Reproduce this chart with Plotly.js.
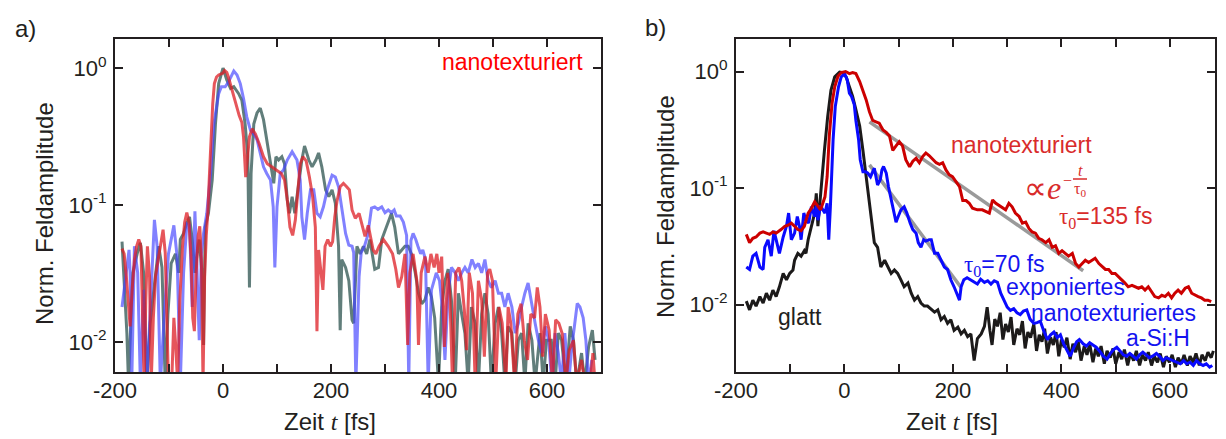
<!DOCTYPE html>
<html>
<head>
<meta charset="utf-8">
<script src="https://cdn.plot.ly/plotly-3.0.1.min.js"></script>
<style>html,body{margin:0;padding:0;background:#fff}#chart{width:1226px;height:439px}</style>
</head>
<body>
<div id="chart"></div>
<script>
// ---------- data: [time fs, normalised field amplitude] ----------
// panel a) three nanotextured samples (clipped values below axis go off-plot)
const aGrey = [[-187,.054],[-178,.0116],[-175,.005],[-167,.032],[-159,.044],[-153,.053],[-147,.032],[-141,.005],[-135,.0137],[-125,.032],[-119,.05],[-113,.035],[-107,.005],[-102,.016],[-96,.0375],[-88,.044],[-82,.032],[-79,.056],[-73,.062],[-67,.074],[-62,.082],[-57,.056],[-52,.032],[-48,.044],[-44,.056],[-39,.032],[-36,.0095],[-33,.069],[-27,.087],[-20,.152],[-14,.39],[-8,.77],[0,1.0],[7,.82],[14,.71],[20,.73],[24,.69],[29,.65],[35,.58],[41,.39],[46,.225],[49,.025],[52,.17],[57,.39],[63,.47],[69,.51],[75,.42],[81,.3],[88,.19],[94,.144],[98,.225],[103,.213],[109,.225],[114,.2],[119,.109],[123,.087],[128,.115],[133,.087],[137,.115],[141,.152],[146,.213],[151,.27],[159,.213],[165,.19],[172,.213],[177,.24],[183,.19],[190,.129],[196,.115],[202,.129],[208,.103],[214,.05],[217,.0122],[220,.04],[227,.035],[233,.028],[239,.0145],[242,.0137],[248,.05],[254,.044],[260,.05],[266,.044],[272,.056],[281,.034],[288,.035],[294,.056],[303,.069],[312,.087],[318,.069],[325,.044],[331,.047],[337,.05],[343,.05],[349,.044],[356,.032],[362,.0227],[368,.019],[374,.0203],[380,.025],[386,.0214],[392,.015],[399,.005],[405,.018],[411,.028],[417,.034],[423,.0203],[430,.005],[436,.0227],[442,.016],[448,.0116],[454,.005],[460,.018],[467,.0137],[473,.005],[479,.016],[485,.0227],[491,.016],[497,.005],[504,.0137],[510,.018],[516,.0116],[522,.005],[528,.013],[535,.0116],[541,.005],[547,.0103],[553,.0116],[559,.005],[565,.0137],[572,.0103],[578,.005],[587,.0116],[593,.005],[599,.0103],[608,.0103],[615,.005],[621,.0116],[627,.0103],[635,.005],[643,.013],[649,.0103],[655,.005],[664,.0083],[670,.005],[677,.0092],[684,.0122],[689,.0074]];
const aBlue = [[-187,.018],[-181,.028],[-174,.047],[-172,.032],[-169,.005],[-164,.05],[-158,.032],[-153,.005],[-147,.024],[-141,.005],[-131,.042],[-127,.078],[-122,.05],[-116,.005],[-107,.0203],[-101,.044],[-91,.071],[-85,.042],[-79,.005],[-73,.032],[-67,.073],[-62,.071],[-57,.018],[-52,.09],[-48,.032],[-44,.0103],[-40,.044],[-36,.062],[-30,.087],[-23,.17],[-17,.39],[-11,.55],[-8,.65],[-3,.73],[4,.73],[10,.79],[17,.91],[20,.95],[26,.89],[32,.77],[38,.6],[44,.44],[51,.35],[57,.33],[63,.3],[69,.24],[75,.19],[81,.17],[88,.152],[93,.097],[96,.035],[100,.097],[106,.17],[112,.18],[119,.213],[128,.245],[137,.213],[143,.152],[146,.082],[151,.056],[156,.087],[162,.129],[168,.129],[174,.087],[180,.082],[186,.097],[193,.129],[202,.165],[208,.16],[214,.136],[220,.097],[227,.062],[233,.051],[239,.05],[242,.045],[246,.005],[252,.03],[256,.045],[262,.05],[268,.06],[275,.095],[281,.097],[287,.093],[294,.097],[300,.088],[306,.092],[312,.088],[317,.092],[321,.083],[328,.083],[334,.075],[340,.06],[344,.005],[348,.055],[352,.062],[357,.056],[361,.05],[366,.044],[370,.047],[375,.04],[380,.005],[386,.024],[395,.032],[401,.028],[406,.018],[411,.0074],[417,.0227],[423,.035],[430,.032],[436,.028],[442,.032],[448,.035],[454,.032],[461,.04],[467,.035],[473,.0375],[479,.032],[485,.04],[491,.028],[497,.025],[504,.028],[510,.0227],[516,.0227],[522,.018],[528,.0227],[535,.018],[541,.0116],[547,.0137],[553,.018],[559,.0227],[565,.027],[572,.018],[578,.0137],[584,.0103],[591,.0083],[597,.013],[603,.0103],[609,.005],[615,.0116],[621,.0083],[627,.005],[633,.0116],[640,.005],[646,.0092],[652,.0145],[656,.0191],[661,.018],[667,.015],[672,.0103],[677,.005],[683,.0074]];
const aRed = [[-187,.048],[-183,.044],[-179,.03],[-176,.02],[-172,.013],[-168,.025],[-164,.04],[-160,.05],[-156,.056],[-152,.05],[-149,.02],[-146,.005],[-143,.02],[-140,.05],[-136,.03],[-133,.005],[-129,.015],[-125,.03],[-120,.04],[-115,.055],[-111,.066],[-107,.045],[-104,.015],[-101,.005],[-95,.005],[-91,.015],[-88,.01],[-84,.005],[-80,.02],[-75,.05],[-71,.075],[-67,.088],[-63,.075],[-59,.04],[-56,.015],[-53,.012],[-50,.03],[-46,.06],[-43,.07],[-40,.04],[-37,.005],[-34,.03],[-31,.06],[-28,.09],[-25,.17],[-22,.33],[-19,.55],[-16,.77],[-12,.86],[-8,.89],[-4,.9],[0,.92],[3,.96],[7,.93],[10,.86],[15,.73],[20,.6],[25,.51],[30,.45],[35,.4],[38,.315],[42,.16],[45,.21],[49,.315],[54,.36],[60,.33],[67,.28],[75,.225],[82,.2],[90,.19],[100,.18],[108,.17],[114,.152],[119,.109],[124,.069],[129,.06],[134,.078],[139,.144],[143,.2],[148,.225],[154,.21],[160,.16],[166,.115],[171,.069],[174,.012],[177,.047],[181,.032],[185,.024],[189,.05],[194,.056],[199,.05],[203,.054],[207,.082],[211,.106],[217,.136],[223,.144],[229,.136],[234,.129],[239,.092],[245,.08],[252,.087],[258,.069],[263,.059],[269,.071],[274,.056],[278,.047],[283,.044],[289,.05],[297,.056],[306,.05],[314,.044],[320,.034],[325,.025],[331,.03],[337,.044],[342,.0095],[346,.032],[352,.044],[359,.028],[362,.0095],[367,.032],[374,.042],[380,.032],[385,.044],[391,.035],[396,.044],[400,.032],[405,.042],[410,.0092],[416,.032],[420,.0227],[425,.005],[431,.032],[437,.035],[442,.028],[447,.017],[451,.0087],[456,.032],[462,.0227],[467,.005],[473,.028],[479,.0203],[484,.0078],[490,.032],[494,.034],[499,.028],[505,.005],[511,.018],[517,.0137],[524,.005],[528,.018],[533,.0137],[540,.005],[546,.016],[552,.019],[558,.0103],[564,.0074],[570,.016],[577,.015],[582,.025],[587,.018],[592,.0078],[597,.016],[604,.0122],[610,.005],[616,.0145],[622,.0137],[628,.0116],[635,.005],[641,.0087],[649,.0103],[655,.005],[664,.0074],[670,.005],[680,.005],[685,.0083],[689,.005]];

// panel b) smooth (glatt), exposed nanotextured a-Si:H (blue), nanotextured (red)
const bBlack = [[-181,.0107],[-175,.009],[-169,.0109],[-163,.0097],[-156,.0117],[-150,.0103],[-144,.0125],[-138,.0109],[-132,.0133],[-126,.0117],[-120,.0142],[-113,.0185],[-107,.0163],[-101,.0185],[-95,.0198],[-92,.024],[-86,.0275],[-80,.026],[-74,.029],[-71,.0275],[-67,.036],[-64,.041],[-60,.047],[-55,.061],[-52,.09],[-49,.047],[-46,.069],[-42,.118],[-37,.21],[-31,.41],[-25,.69],[-18,.9],[-9,.99],[-3,.98],[3,.9],[9,.74],[15,.61],[21,.47],[28,.34],[34,.21],[40,.125],[46,.079],[52,.047],[55,.034],[61,.031],[67,.021],[74,.024],[80,.021],[86,.0185],[92,.0198],[98,.0185],[104,.0163],[110,.0142],[117,.0153],[123,.0125],[129,.0109],[135,.0117],[141,.0103],[147,.0097],[153,.0097],[160,.009],[166,.0086],[172,.009],[178,.0074],[184,.0079],[190,.0069],[196,.0074],[202,.006],[209,.0064],[215,.0056],[221,.006],[227,.0053],[233,.0056],[239,.0033],[245,.0051],[252,.0056],[258,.0065],[263,.0095],[268,.006],[272,.0045],[277,.0075],[282,.0065],[287,.0085],[292,.005],[297,.0068],[302,.0058],[307,.0078],[312,.0045],[318,.0062],[323,.0055],[328,.0072],[333,.0042],[338,.0058],[343,.0052],[349,.0068],[354,.004],[359,.0055],[364,.0048],[369,.0062],[374,.0038],[380,.0052],[385,.0045],[390,.0058],[395,.0036],[400,.005],[405,.0043],[410,.0052],[416,.0034],[421,.0046],[426,.0039],[431,.0048],[436,.0033],[442,.0044],[447,.0037],[452,.0046],[458,.0032],[463,.0042],[468,.0036],[473,.0044],[479,.0031],[484,.004],[490,.0035],[495,.0042],[500,.0031],[506,.0039],[511,.0034],[516,.0041],[522,.003],[527,.0038],[533,.0033],[538,.004],[544,.003],[549,.0037],[555,.0033],[560,.0039],[566,.003],[571,.0036],[577,.0032],[582,.0038],[588,.0029],[593,.0036],[599,.0032],[604,.0037],[610,.0029],[615,.0035],[621,.0031],[626,.0037],[632,.003],[637,.0036],[643,.0032],[648,.0038],[654,.003],[659,.0037],[665,.0033],[670,.0039],[676,.0035],[680,.004]];
const bBlue = [[-181,.021],[-175,.02],[-169,.026],[-163,.0275],[-156,.021],[-150,.02],[-147,.031],[-141,.036],[-135,.026],[-130,.043],[-126,.036],[-120,.0275],[-113,.038],[-107,.047],[-103,.061],[-98,.036],[-92,.041],[-87,.057],[-83,.047],[-80,.036],[-75,.061],[-71,.053],[-66,.05],[-61,.069],[-55,.057],[-52,.071],[-49,.053],[-44,.071],[-40,.065],[-36,.061],[-32,.074],[-29,.036],[-26,.069],[-21,.26],[-17,.5],[-11,.74],[-6,.9],[0,.96],[5,.85],[9,.65],[13,.61],[18,.52],[21,.38],[26,.26],[29,.175],[34,.138],[39,.138],[43,.134],[48,.125],[52,.138],[55,.148],[58,.125],[61,.106],[66,.118],[69,.143],[72,.153],[77,.134],[81,.103],[86,.079],[91,.061],[95,.051],[99,.057],[104,.065],[110,.069],[115,.061],[121,.05],[126,.044],[132,.041],[136,.034],[141,.031],[146,.036],[150,.035],[156,.036],[160,.036],[166,.0275],[172,.0275],[178,.024],[184,.021],[190,.02],[196,.0163],[202,.0142],[207,.0125],[212,.0109],[215,.0142],[220,.0163],[226,.017],[232,.0163],[238,.0155],[245,.015],[251,.0165],[258,.0155],[264,.016],[270,.015],[276,.016],[282,.0155],[288,.0125],[294,.011],[300,.0095],[306,.0089],[312,.0092],[318,.0085],[324,.0082],[330,.0088],[336,.009],[342,.0075],[349,.0069],[355,.007],[361,.0072],[367,.006],[374,.005],[380,.0055],[386,.0058],[392,.0052],[398,.0055],[404,.0046],[410,.004],[416,.0036],[422,.0042],[428,.0048],[433,.005],[440,.0046],[446,.0044],[452,.0047],[458,.0045],[464,.0043],[470,.004],[477,.0036],[484,.0034],[490,.0038],[496,.0041],[502,.0043],[508,.004],[514,.0037],[520,.0036],[526,.0038],[532,.0036],[538,.0034],[544,.0037],[550,.0039],[556,.0037],[562,.0035],[568,.0036],[575,.0038],[581,.0036],[587,.0033],[593,.0035],[600,.0034],[606,.0033],[612,.0032],[619,.0031],[625,.0033],[631,.0031],[637,.0032],[643,.003],[649,.0033],[655,.0031],[661,.003],[667,.0031],[673,.0029],[678,.003]];
const bRed = [[-181,.040],[-175,.034],[-169,.037],[-163,.038],[-156,.041],[-150,.042],[-144,.041],[-138,.040],[-132,.042],[-126,.041],[-117,.044],[-110,.047],[-104,.048],[-98,.05],[-92,.047],[-86,.044],[-80,.043],[-74,.047],[-67,.061],[-61,.067],[-55,.076],[-49,.069],[-44,.065],[-40,.074],[-36,.084],[-32,.125],[-28,.28],[-23,.53],[-18,.74],[-12,.91],[-6,.98],[2,1.0],[9,.96],[15,.98],[21,.96],[28,.82],[34,.69],[40,.57],[46,.45],[52,.38],[58,.37],[64,.36],[71,.315],[77,.3],[83,.28],[89,.21],[95,.23],[101,.25],[107,.23],[113,.175],[120,.152],[126,.17],[132,.18],[138,.165],[144,.186],[150,.2],[156,.19],[163,.175],[169,.165],[175,.16],[181,.165],[187,.143],[193,.13],[199,.125],[206,.113],[212,.103],[218,.078],[224,.078],[230,.074],[236,.067],[245,.065],[254,.065],[267,.061],[273,.079],[279,.074],[288,.069],[297,.065],[303,.074],[309,.069],[315,.061],[322,.057],[328,.05],[334,.051],[340,.045],[346,.042],[352,.041],[358,.037],[364,.036],[371,.034],[377,.036],[383,.031],[389,.032],[395,.0275],[401,.029],[407,.0275],[413,.026],[420,.0275],[426,.0225],[432,.021],[438,.0225],[444,.024],[450,.023],[456,.024],[462,.025],[469,.0225],[475,.021],[481,.02],[487,.02],[493,.0185],[499,.0185],[505,.0175],[511,.0163],[517,.0153],[523,.0142],[530,.0146],[536,.0142],[542,.0138],[548,.0142],[554,.0133],[560,.0142],[566,.013],[572,.0117],[579,.0114],[585,.012],[591,.0117],[597,.0125],[603,.0114],[609,.0125],[615,.0133],[621,.0125],[628,.0138],[634,.0142],[640,.0125],[646,.012],[652,.0117],[658,.0114],[664,.0109],[670,.0109],[676,.0106]];
// exponential fits (straight on log axis): endpoints
const bRedFit = [[46,.37],[440,.0195]];
const bBlueFit = [[46,.158],[215,.014]];

// ---------- ticks ----------
const xTickVals = [-200,-100,0,100,200,300,400,500,600,700];
const xTickText = ['-200','','0','','200','','400','','600',''];
const xMinorVals = [-150,-50,50,150,250,350,450,550,650];
const yTickVals = [0.01,0.1,1];
const yTickText = ['10<sup>-2</sup>','10<sup>-1</sup>','10<sup>0</sup>'];
const yMinorVals = [0.002,0.003,0.004,0.005,0.006,0.007,0.008,0.009,0.02,0.03,0.04,0.05,0.06,0.07,0.08,0.09,0.2,0.3,0.4,0.5,0.6,0.7,0.8,0.9];

// ---------- layout helpers ----------
const W = 1226, H = 439;
const INK = '#231f20';
const SANS = 'Liberation Sans, Arial, sans-serif';
const SERIF = 'Liberation Serif, Times New Roman, serif';
const pxX = x => x / W, pxY = y => 1 - y / H;
const FONT = {family:SANS, size:22, color:INK};

function xAxis(domain, range, anchor) {
  return {domain, range, anchor, tickmode:'array', tickvals:xTickVals, ticktext:xTickText,
    ticks:'inside', ticklen:8, tickwidth:2, tickcolor:INK,
    showline:true, linewidth:2, linecolor:INK, mirror:'ticks', showgrid:false, zeroline:false,
    tickfont:FONT, ticklabelstandoff:-2};
}
function xMinor(over, range, anchor) {
  return {overlaying:over, range, anchor, tickmode:'array', tickvals:xMinorVals, showticklabels:false,
    ticks:'inside', ticklen:5, tickwidth:2, tickcolor:INK, showline:false, mirror:'ticks',
    showgrid:false, zeroline:false};
}
function yAxis(domain, range, anchor) {
  return {domain, range, anchor, type:'log', tickmode:'array', tickvals:yTickVals, ticktext:yTickText,
    ticks:'inside', ticklen:8, tickwidth:2, tickcolor:INK,
    showline:true, linewidth:2, linecolor:INK, mirror:'ticks', showgrid:false, zeroline:false,
    tickfont:FONT, ticklabelstandoff:2};
}
function yMinor(over, range, anchor) {
  return {overlaying:over, range, anchor, type:'log', tickmode:'array', tickvals:yMinorVals, showticklabels:false,
    ticks:'inside', ticklen:5, tickwidth:2, tickcolor:INK, showline:false, mirror:'ticks',
    showgrid:false, zeroline:false};
}
function tr(pairs, xa, ya, color, width) {
  return {x:pairs.map(p=>p[0]), y:pairs.map(p=>p[1]), xaxis:xa, yaxis:ya, type:'scatter', mode:'lines',
    line:{color, width}, hoverinfo:'skip', showlegend:false};
}
function lab(x, y, text, color, size, extra) {
  return Object.assign({x:pxX(x), y:pxY(y), xref:'paper', yref:'paper', text, showarrow:false,
    xanchor:'center', yanchor:'middle', font:{family:SANS, size, color}}, extra || {});
}

const data = [
  tr(aGrey,'x','y','rgba(62,98,94,0.82)',3),
  tr(aBlue,'x','y','rgba(70,70,255,0.68)',3),
  tr(aRed,'x','y','rgba(222,30,36,0.75)',3),
  tr(bRedFit,'x2','y2','#9a9a9a',3.5),
  tr(bBlueFit,'x2','y2','#9a9a9a',3.5),
  tr(bBlack,'x2','y2','#1c1a1a',3),
  tr(bBlue,'x2','y2','#0a0aff',3),
  tr(bRed,'x2','y2','#cc0000',3)
];

const RED_B = '#d92b2b', BLUE_B = '#1414f0';
const DOM_Y = [1-372/H, 1-39/H];
const layout = {
  width:W, height:H, margin:{l:0,r:0,t:0,b:0}, paper_bgcolor:'#fff', plot_bgcolor:'#fff', showlegend:false,
  xaxis: xAxis([115/W, 601/W], [-200, 700], 'y'),
  yaxis: yAxis(DOM_Y, [-2.219, 0.212], 'x'),
  xaxis2: xAxis([736/W, 1215/W], [-200, 683], 'y2'),
  yaxis2: yAxis(DOM_Y, [-2.579, 0.279], 'x2'),
  xaxis3: xMinor('x', [-200, 700], 'y'),
  yaxis3: yMinor('y', [-2.219, 0.212], 'x'),
  xaxis4: xMinor('x2', [-200, 683], 'y2'),
  yaxis4: yMinor('y2', [-2.579, 0.279], 'x2'),
  annotations: [
    lab(25, 28, 'a)', INK, 24),
    lab(655, 27, 'b)', INK, 24),
    lab(45, 214, 'Norm. Feldamplitude', INK, 24, {textangle:-90}),
    lab(665, 207, 'Norm. Feldamplitude', INK, 24, {textangle:-90}),
    lab(330, 421, 'Zeit <span style="font-family:Liberation Serif"><i>t</i></span> [fs]', INK, 24),
    lab(952, 421, 'Zeit <span style="font-family:Liberation Serif"><i>t</i></span> [fs]', INK, 24),
    lab(512, 62, 'nanotexturiert', '#ff0000', 23),
    lab(1021, 145, 'nanotexturiert', RED_B, 23),
    lab(1042, 188, '∝<i>e</i>', RED_B, 32, {font:{family:SERIF, size:32, color:RED_B}}),
    lab(1067, 180, '−', RED_B, 16, {font:{family:SERIF, size:16, color:RED_B}}),
    lab(1080, 170, '<i>t</i>', RED_B, 16, {font:{family:SERIF, size:16, color:RED_B}}),
    lab(1080, 189, 'τ<sub>0</sub>', RED_B, 16, {font:{family:SERIF, size:16, color:RED_B}}),
    lab(1105, 218, '<span style="font-family:Liberation Serif">τ<sub>0</sub></span>=135 fs', RED_B, 23),
    lab(1004, 265, '<span style="font-family:Liberation Serif">τ<sub>0</sub></span>=70 fs', BLUE_B, 23),
    lab(1065, 287, 'exponiertes', BLUE_B, 23),
    lab(1113, 313, 'nanotexturiertes', BLUE_B, 23),
    lab(1158, 338, 'a-Si:H', BLUE_B, 23),
    lab(800, 317, 'glatt', INK, 23)
  ],
  shapes: [
    {type:'line', xref:'paper', yref:'paper', x0:pxX(1073), x1:pxX(1087), y0:pxY(179), y1:pxY(179), line:{color:RED_B, width:1.5}}
  ]
};

Plotly.newPlot('chart', data, layout, {staticPlot:true, displayModeBar:false});
</script>
</body>
</html>
